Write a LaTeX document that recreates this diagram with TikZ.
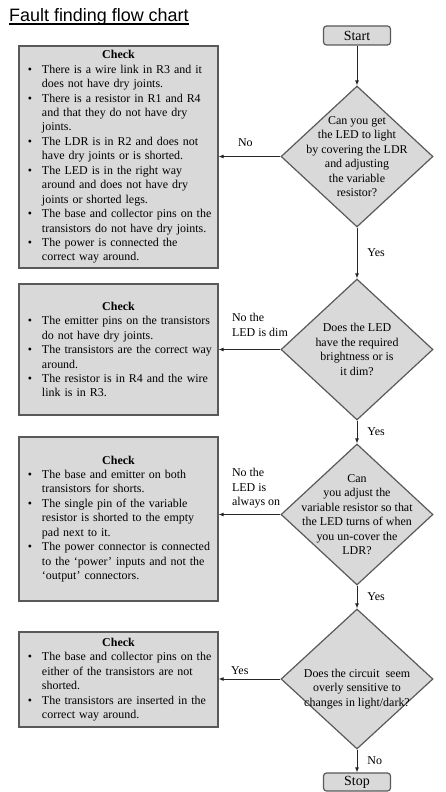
\documentclass[tikz,border=0pt]{standalone}
\usepackage{fontspec}
\setmainfont{Liberation Serif}
\newfontfamily\arialfont{Liberation Sans}
\usetikzlibrary{shapes.geometric,arrows.meta,math}

\definecolor{boxfill}{HTML}{D9D9D9}
\definecolor{boxline}{HTML}{595959}
\definecolor{flowline}{HTML}{262626}

\newenvironment{checklist}{\begin{list}{\textbullet}{%
  \setlength{\leftmargin}{18bp}\setlength{\labelsep}{10bp}%
  \setlength{\labelwidth}{8bp}\setlength{\itemsep}{0pt}%
  \setlength{\parsep}{0pt}\setlength{\topsep}{0pt}%
  \setlength{\partopsep}{0pt}}}{\end{list}}
\newcommand{\checkhead}{{\centering\textbf{Check}\par}}

\begin{document}
\begin{tikzpicture}[x=1bp, y=-1bp,
    chk/.style={draw=boxline, line width=1.2bp, fill=boxfill, text width=189bp,
      inner xsep=5bp, inner ysep=0pt, font=\fontsize{12}{14.5}\selectfont},
    ask/.style={diamond, draw=boxline, line width=1.2bp, fill=boxfill,
      minimum width=152bp, minimum height=141bp, inner sep=0pt},
    asktext/.style={align=center, inner sep=0pt, font=\fontsize{12}{14.5}\selectfont},
    term/.style={draw=boxline, line width=1.2bp, fill=boxfill, rounded corners=3bp,
      minimum width=67bp, minimum height=19bp, inner sep=0pt, font=\fontsize{14}{16}\selectfont},
    flow/.style={draw=flowline, line width=0.9bp, -{Latex[length=5bp,width=4bp]}},
    lbl/.style={align=left, inner sep=0pt, font=\fontsize{12}{14.5}\selectfont}]
    \tikzmath{\qx = 357; \bx = 118.5;}
    \useasboundingbox (0,0) rectangle (446,792);

    \node[anchor=base west, inner sep=0pt, font=\arialfont\fontsize{18}{20}\selectfont] (title) at (9,22) {Fault finding flow chart};
    \draw[line width=1.5bp] ([yshift=-2bp]title.base west) -- ([yshift=-2bp]title.base east);

    \node[term] (start) at (\qx,35.5) {Start};
    \node[ask] (q1) at (\qx,156.5) {};
    \node[asktext] (q1text) at (q1) {Can you get\\the LED to light\\by covering the LDR\\and adjusting\\the variable\\resistor?};
    \node[ask] (q2) at (\qx,349.5) {};
    \node[asktext] (q2text) at (q2) {Does the LED\\have the required\\brightness or is\\it dim?};
    \node[ask] (q3) at (\qx,514.5) {};
    \node[asktext] (q3text) at (q3) {Can\\you adjust the\\variable resistor so that\\the LED turns of when\\you un-cover the\\LDR?};
    \node[ask, minimum height=140bp] (q4) at (\qx,679) {};
    \node[asktext] (q4text) at ([yshift=-10bp]q4.center) {Does the circuit\ \ seem\\overly sensitive to\\changes in light/dark?};
    \node[term, minimum height=18bp] (stop) at (\qx,782) {Stop};

    \node[chk, minimum height=222bp] (chk1) at (\bx,157) {\checkhead
      \begin{checklist}
      \item There is a wire link in R3 and it\\ does not have dry joints.
      \item There is a resistor in R1 and R4\\ and that they do not have dry\\ joints.
      \item The LDR is in R2 and does not\\ have dry joints or is shorted.
      \item The LED is in the right way\\ around and does not have dry\\ joints or shorted legs.
      \item The base and collector pins on the\\ transistors do not have dry joints.
      \item The power is connected the\\ correct way around.
      \end{checklist}};
    \node[chk, minimum height=131bp] (chk2) at (\bx,349.5) {\checkhead
      \begin{checklist}
      \item The emitter pins on the transistors\\ do not have dry joints.
      \item The transistors are the correct way\\ around.
      \item The resistor is in R4 and the wire\\ link is in R3.
      \end{checklist}};
    \node[chk, minimum height=164bp] (chk3) at (\bx,519) {\checkhead
      \begin{checklist}
      \item The base and emitter on both\\ transistors for shorts.
      \item The single pin of the variable\\ resistor is shorted to the empty\\ pad next to it.
      \item The power connector is connected\\ to the ‘power’ inputs and not the\\ ‘output’ connectors.
      \end{checklist}};
    \node[chk, minimum height=95bp] (chk4) at (\bx,679.5) {\checkhead
      \begin{checklist}
      \item The base and collector pins on the\\ either of the transistors are not\\ shorted.
      \item The transistors are inserted in the\\ correct way around.
      \end{checklist}};

    \draw[flow] (start) -- (q1);
    \draw[flow] (q1) -- node[lbl, right=10bp] {Yes} (q2);
    \draw[flow] (q2) -- node[lbl, right=10bp] {Yes} (q3);
    \draw[flow] (q3) -- node[lbl, right=10bp] {Yes} (q4);
    \draw[flow] (q4) -- node[lbl, right=10bp] {No} (stop);

    \draw[flow] (q1.west) -- node[lbl, pos=1, anchor=south west, xshift=19bp, yshift=9.5bp] {No} (q1.west -| chk1.east);
    \draw[flow] (q2.west) -- node[lbl, pos=1, anchor=south west, xshift=13bp, yshift=12.5bp] {No the\\LED is dim} (q2.west -| chk2.east);
    \draw[flow] (q3.west) -- node[lbl, pos=1, anchor=south west, xshift=13bp, yshift=6bp] {No the\\LED is\\always on} (q3.west -| chk3.east);
    \draw[flow] (q4.west) -- node[lbl, pos=1, anchor=south west, xshift=12bp, yshift=4bp] {Yes} (q4.west -| chk4.east);
\end{tikzpicture}
\end{document}
